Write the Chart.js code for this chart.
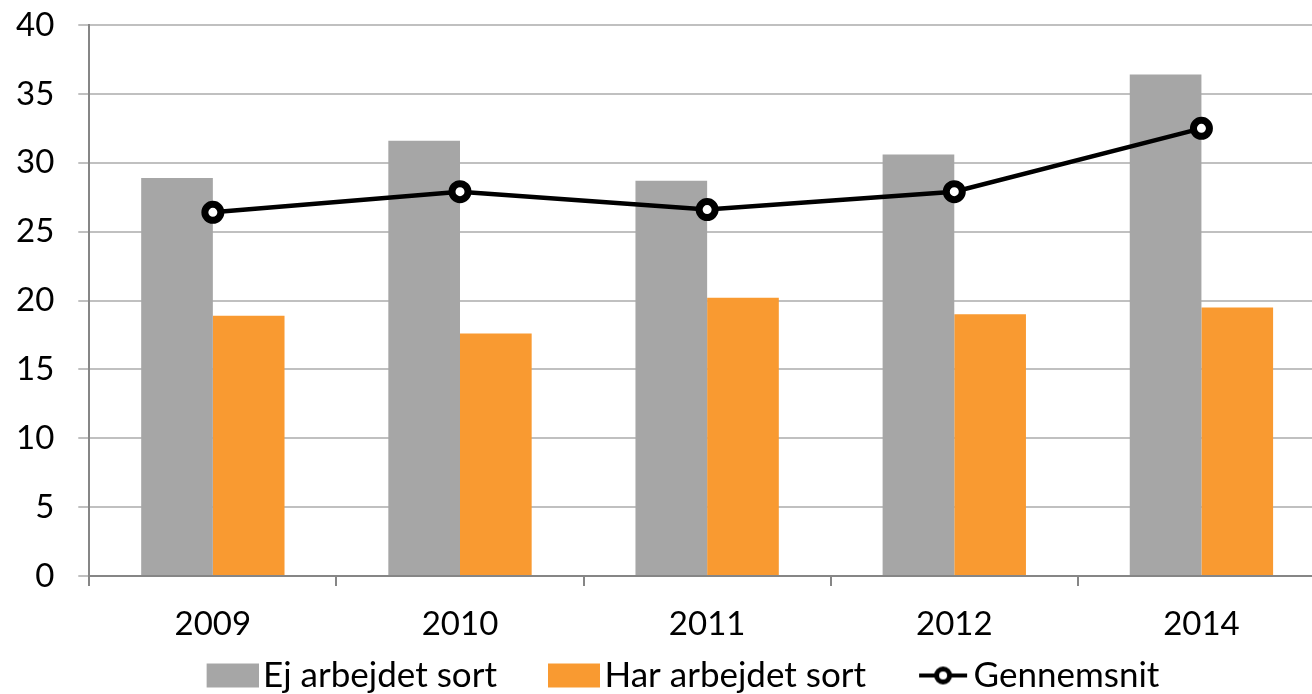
<!DOCTYPE html>
<html>
<head>
<meta charset="utf-8">
<script src="https://cdn.jsdelivr.net/npm/chart.js@4"></script>
<style>
  html, body { margin: 0; padding: 0; background: #fff; overflow: hidden; }
  #wrap { width: 1312px; height: 694px; overflow: hidden; }
</style>
</head>
<body>
<div id="wrap"><canvas id="chart" width="1325" height="694"></canvas></div>
<script>
var years = ['2009', '2010', '2011', '2012', '2014'];
var ejArbejdet = [28.9, 31.6, 28.7, 30.6, 36.4];
var harArbejdet = [18.9, 17.6, 20.2, 19.0, 19.5];
var gennemsnit = [26.4, 27.9, 26.6, 27.9, 32.5];
var yTicks = [0, 5, 10, 15, 20, 25, 30, 35, 40];

var FONT = 'Lato, "Open Sans", sans-serif';
var FS = 33;
var LEGEND_FS = 35;
var GRAY = '#a6a6a6';
var ORANGE = '#f99a31';

// the plot runs past the right edge in the original (canvas is a bit wider
// than the page), so don't let the line's point size reserve room there
Chart.LineController.prototype.getMaxOverflow = function () { return 0; };

// legend icons: visible part sits at the right end, left part transparent
var ICON_GAP = 48;
var PSW = ICON_GAP + 40;
var ICON_W = Math.round(PSW + LEGEND_FS / 2 + 8);
function rectIcon(color) {
    var c = document.createElement('canvas');
    c.width = ICON_W; c.height = 26;
    var g = c.getContext('2d');
    g.fillStyle = color;
    g.fillRect(ICON_W - 52, 1, 52, 24);
    return c;
}
function lineIcon() {
    var c = document.createElement('canvas');
    c.width = ICON_W; c.height = 26;
    var g = c.getContext('2d');
    var x0 = ICON_W - 50;
    g.strokeStyle = '#000';
    g.lineWidth = 4;
    g.beginPath(); g.moveTo(x0, 13); g.lineTo(ICON_W - 2, 13); g.stroke();
    g.lineWidth = 5;
    g.fillStyle = '#fff';
    g.beginPath(); g.arc(x0 + 24, 13, 6.5, 0, Math.PI * 2); g.fill(); g.stroke();
    return c;
}
var icons = [rectIcon(GRAY), rectIcon(ORANGE), lineIcon()];

var ctx = document.getElementById('chart').getContext('2d');
new Chart(ctx, {
    type: 'bar',
    data: {
        labels: years,
        datasets: [{
            type: 'line',
            label: 'Gennemsnit',
            data: gennemsnit,
            borderColor: '#000',
            borderWidth: 4.5,
            pointRadius: 8,
            pointBorderWidth: 7,
            pointBackgroundColor: '#fff',
            pointBorderColor: '#000',
            tension: 0,
            order: 0
        }, {
            label: 'Ej arbejdet sort',
            data: ejArbejdet,
            backgroundColor: GRAY,
            categoryPercentage: 0.58,
            barPercentage: 1,
            order: 1
        }, {
            label: 'Har arbejdet sort',
            data: harArbejdet,
            backgroundColor: ORANGE,
            categoryPercentage: 0.58,
            barPercentage: 1,
            order: 1
        }]
    },
    options: {
        responsive: false,
        animation: false,
        layout: { padding: { left: -8, top: 25, right: 0, bottom: -9 } },
        plugins: {
            tooltip: { enabled: false },
            legend: {
                position: 'bottom',
                labels: {
                    font: { family: FONT, size: LEGEND_FS },
                    color: '#000',
                    usePointStyle: true,
                    pointStyleWidth: PSW,
                    padding: 2,
                    generateLabels: function (chart) {
                        var ds = chart.data.datasets;
                        return [1, 2, 0].map(function (i, k) {
                            return {
                                text: ds[i].label,
                                datasetIndex: i,
                                pointStyle: icons[k],
                                fillStyle: 'transparent',
                                strokeStyle: 'transparent',
                                lineWidth: 0,
                                fontColor: '#000'
                            };
                        });
                    }
                }
            }
        },
        scales: {
            x: {
                offset: true,
                afterFit: function (axis) {
                    axis.paddingLeft = 0;
                    axis.paddingRight = 0;
                    axis.height = 80;
                },
                grid: {
                    offset: true,
                    drawOnChartArea: false,
                    drawTicks: true,
                    tickLength: 10,
                    color: '#868686',
                    lineWidth: 2
                },
                border: { color: '#868686', width: 2 },
                ticks: {
                    font: { family: FONT, size: FS },
                    color: '#000',
                    padding: 19
                }
            },
            y: {
                min: 0,
                max: 40,
                afterBuildTicks: function (axis) {
                    axis.ticks = yTicks.map(function (v) { return { value: v }; });
                },
                afterFit: function (axis) {
                    axis.paddingTop = 0;
                    axis.paddingBottom = 0;
                },
                grid: {
                    color: '#c0c0c0',
                    lineWidth: 2,
                    tickLength: 11
                },
                border: { color: '#868686', width: 2 },
                ticks: {
                    font: { family: FONT, size: FS },
                    color: '#000',
                    padding: 24
                }
            }
        }
    }
});
</script>
</body>
</html>
